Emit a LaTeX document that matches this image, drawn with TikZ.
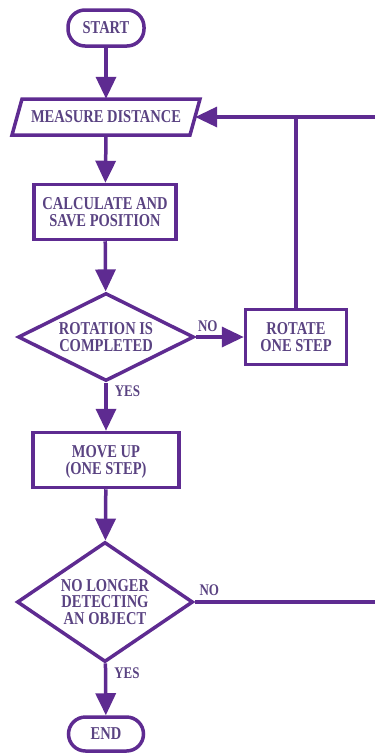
\documentclass[tikz,border=0pt]{standalone}
\usepackage{fontspec}
\usepackage{graphicx}
\setmainfont{Liberation Serif}
\newfontfamily\flowfont{Liberation Serif}
\usetikzlibrary{arrows.meta,shapes.geometric}
\definecolor{pline}{HTML}{5E2B91}
\definecolor{ptext}{HTML}{5A4382}
\newcommand\tallt[1]{\scalebox{1}[1.25]{\renewcommand{\arraystretch}{0.8}\begin{tabular}{@{}c@{}}#1\end{tabular}}}
\begin{document}
\begin{tikzpicture}[x=1pt,y=1pt,
  every node/.style={font=\flowfont\fontsize{14.5}{15.5}\selectfont\bfseries, text=ptext, align=center, inner sep=0pt},
  txt/.style={label={[yshift=-2.2pt]center:\tallt{#1}}},
  termbox/.style={draw=pline, line width=3.5pt, rounded corners=17pt, minimum width=76pt, minimum height=36pt},
  procbox/.style={draw=pline, line width=3.5pt, minimum width=#1, minimum height=55pt},
  decbox/.style={draw=pline, line width=3.5pt, diamond, aspect=2, minimum width=176pt, minimum height=#1},
  flow/.style={draw=pline, line width=3.5pt, -{Triangle[width=20pt,length=22pt]}},
  plain/.style={draw=pline, line width=3.5pt},
  lbl/.style={font=\flowfont\fontsize{13}{14}\selectfont\bfseries}
]
\useasboundingbox (0,0) rectangle (375,-753);
\node[termbox, txt={START}] (start) at (106,-28) {};
\node[minimum width=178pt, minimum height=36pt, txt={MEASURE DISTANCE}] (meas) at (106,-117) {};
\draw[plain, line join=miter] (12,-135) -- (190,-135) -- (200,-99) -- (22,-99) -- cycle;
\node[procbox=142pt, txt={CALCULATE AND\\SAVE POSITION}] (calc) at (105,-212) {};
\node[decbox=88pt, txt={ROTATION IS\\COMPLETED}] (d1) at (106,-337) {};
\node[procbox=101pt, txt={ROTATE\\ONE STEP}] (rot) at (296,-337) {};
\node[procbox=146pt, txt={MOVE UP\\(ONE STEP)}] (move) at (106,-460) {};
\node[decbox=120pt, txt={NO LONGER\\DETECTING\\AN OBJECT}] (d2) at (105,-602) {};
\node[termbox, minimum width=75pt, minimum height=34pt, txt={END}] (end) at (106,-734) {};
\coordinate (rtop) at (377,-117);
\coordinate (rbot) at (377,-602);

\draw[flow] (start) -- (meas.north);
\draw[flow] (meas.south) -- (calc);
\draw[flow] (calc) -- (d1);
\draw[flow] (d1) -- node[lbl, pos=0.25, above, yshift=0pt]{\tallt{NO}} (rot);
\draw[flow] (d1) -- node[lbl, pos=0.22, right, xshift=7pt]{\tallt{YES}} (move);
\draw[flow] (move) -- (d2);
\draw[flow] (d2) -- node[lbl, pos=0.22, right, xshift=7pt]{\tallt{YES}} (end);
\draw[plain] (d2.east) -- node[lbl, pos=0.08, above, yshift=1pt]{\tallt{NO}} (rbot) -- (rtop);
\draw[flow] (rtop) -- (meas.east);
\draw[plain] (rot.north) -- (rot.north |- meas.east);
\end{tikzpicture}
\end{document}
